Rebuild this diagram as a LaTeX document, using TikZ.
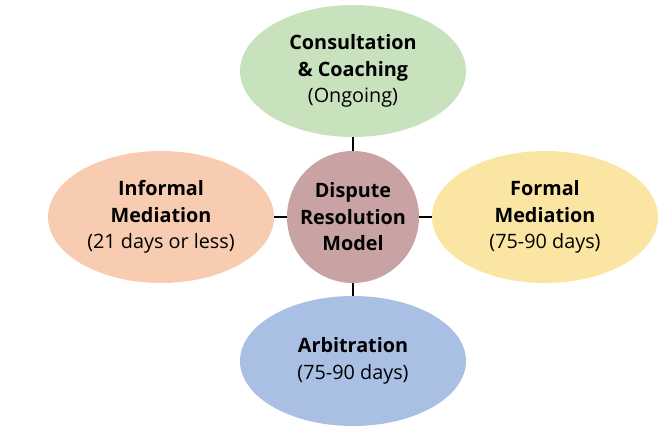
\documentclass[tikz,border=0pt]{standalone}
\usepackage{fontspec}
\setmainfont[Ligatures={NoCommon,NoRare}]{Open Sans}
\usetikzlibrary{shapes.geometric}
\definecolor{cgreen}{RGB}{201,226,190}
\definecolor{cpink}{RGB}{201,163,163}
\definecolor{cpeach}{RGB}{248,204,176}
\definecolor{cyellow}{RGB}{250,230,162}
\definecolor{cblue}{RGB}{169,191,227}
\tikzset{
  oval/.style={ellipse, minimum width=226pt, minimum height=132pt, inner sep=0pt, align=center, font=\fontsize{19.8}{26.5}\selectfont},
  hub/.style={circle, minimum size=132pt, inner sep=0pt, align=center, font=\bfseries\fontsize{19.8}{26.5}\selectfont},
  link/.style={line width=2.5pt, black}
}
\begin{document}
\begin{tikzpicture}[x=1pt,y=-1pt]
\useasboundingbox (0,0) rectangle (662,426);
\node[hub, fill=cpink] (hub) at (353,217) {Dispute\\Resolution\\Model};
\node[oval, fill=cgreen] (top) at (353,71) {\textbf{Consultation}\\\textbf{\& Coaching}\\(Ongoing)};
\node[oval, fill=cpeach] (left) at (161,217) {\textbf{Informal}\\\textbf{Mediation}\\(21 days or less)};
\node[oval, fill=cyellow] (right) at (545,217) {\textbf{Formal}\\\textbf{Mediation}\\(75-90 days)};
\node[oval, fill=cblue, minimum height=130pt] (bot) at (353,361) {\textbf{Arbitration}\\(75-90 days)};
\draw[link] (top) -- (hub);
\draw[link] (left) -- (hub);
\draw[link] (right) -- (hub);
\draw[link] (bot) -- (hub);
\end{tikzpicture}
\end{document}
